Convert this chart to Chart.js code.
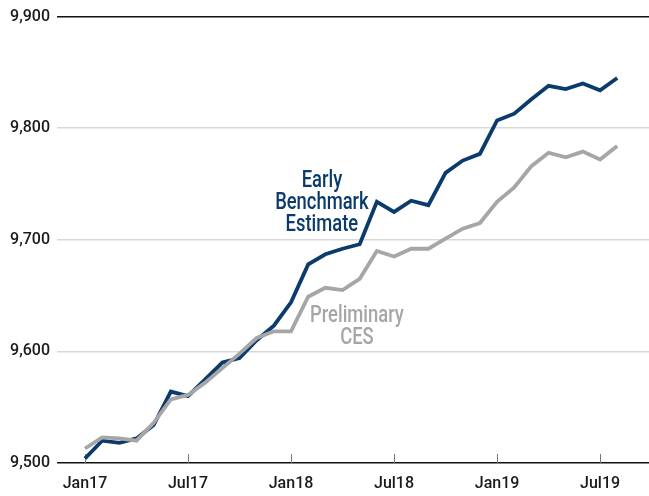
<!DOCTYPE html>
<html><head><meta charset="utf-8">
<script src="https://cdn.jsdelivr.net/npm/chart.js@4"></script>
<style>html,body{margin:0;padding:0;background:#fff}#wrap{width:649px;height:496px}</style>
</head><body><div id="wrap"><canvas id="c" width="649" height="496"></canvas></div>
<script>
const months = ['Jan17','Feb17','Mar17','Apr17','May17','Jun17','Jul17','Aug17','Sep17','Oct17','Nov17','Dec17',
  'Jan18','Feb18','Mar18','Apr18','May18','Jun18','Jul18','Aug18','Sep18','Oct18','Nov18','Dec18',
  'Jan19','Feb19','Mar19','Apr19','May19','Jun19','Jul19','Aug19'];
const tickLabels = ['Jan17','Jul17','Jan18','Jul18','Jan19','Jul19'];
const yTicks = [9500,9600,9700,9800,9900];
const earlyBenchmark = [9504,9520,9518,9522,9534,9564,9560,9575,9590,9594,9610,9623,
  9644,9678,9687,9692,9696,9734,9725,9735,9731,9760,9771,9777,
  9807,9813,9826,9838,9835,9840,9834,9845];
const preliminaryCES = [9513,9523,9522,9520,9536,9557,9561,9572,9585,9598,9612,9618,
  9618,9649,9657,9655,9665,9690,9685,9692,9692,9701,9710,9715,
  9734,9747,9766,9778,9774,9779,9772,9784];

const BLUE = '#0b3b6d', GRAY = '#a6a6a6';
const tickIdx = tickLabels.map(l => months.indexOf(l));
const toPts = arr => arr.map((v, i) => ({x: i, y: v}));

const annotations = [
  {x: 13.8, y: 9747, color: BLUE, lines: ['Early', 'Benchmark', 'Estimate']},
  {x: 15.84, y: 9626, color: GRAY, lines: ['Preliminary', 'CES']}
];

const extras = {
  id: 'extras',
  beforeDatasetsDraw(chart) {
    const {ctx, chartArea, scales} = chart;
    ctx.save();
    ctx.strokeStyle = '#777';
    ctx.lineWidth = 1;
    tickIdx.forEach(v => {
      const x = Math.round(scales.x.getPixelForValue(v)) + 0.5;
      ctx.beginPath();
      ctx.moveTo(x, chartArea.bottom - 9);
      ctx.lineTo(x, chartArea.bottom);
      ctx.stroke();
    });
    ctx.restore();
  },
  afterDatasetsDraw(chart) {
    const {ctx, scales} = chart;
    ctx.save();
    ctx.font = '500 23px Roboto';
    ctx.textAlign = 'center';
    ctx.textBaseline = 'alphabetic';
    annotations.forEach(a => {
      const x = scales.x.getPixelForValue(a.x);
      const y0 = scales.y.getPixelForValue(a.y);
      ctx.fillStyle = a.color;
      a.lines.forEach((t, i) => {
        ctx.save();
        ctx.translate(x, y0 + i * 22);
        ctx.scale(0.8, 1);
        ctx.fillText(t, 0, 0);
        ctx.restore();
      });
    });
    ctx.restore();
  }
};

new Chart(document.getElementById('c'), {
  type: 'line',
  data: {
    datasets: [
      {label: 'Preliminary CES', data: toPts(preliminaryCES), borderColor: GRAY, borderWidth: 3.8,
       pointRadius: 0, tension: 0, order: 0},
      {label: 'Early Benchmark Estimate', data: toPts(earlyBenchmark), borderColor: BLUE, borderWidth: 3.8,
       pointRadius: 0, tension: 0, order: 1}
    ]
  },
  options: {
    responsive: false,
    animation: false,
    layout: {padding: {top: 15, left: 0, right: 0, bottom: 0}},
    plugins: {legend: {display: false}, tooltip: {enabled: false}},
    scales: {
      x: {
        type: 'linear', min: -1.63, max: 32.85,
        grid: {display: false}, border: {display: false},
        afterBuildTicks: s => { s.ticks = tickIdx.map(v => ({value: v})); },
        afterFit: s => { s.height = 33; },
        ticks: {autoSkip: false, maxRotation: 0, padding: 3, color: '#1a1a1a',
                font: {family: 'Roboto', size: 16, weight: '500'},
                callback: v => months[v]}
      },
      y: {
        min: 9500, max: 9900,
        afterBuildTicks: s => { s.ticks = yTicks.map(v => ({value: v})); },
        afterFit: s => { s.width = 57; },
        border: {display: false},
        grid: {drawTicks: false, lineWidth: 1.5,
               color: c => (c.tick && (c.tick.value === 9900 || c.tick.value === 9500)) ? '#111' : '#d9d9d9'},
        ticks: {padding: 7, color: '#1a1a1a', font: {family: 'Roboto', size: 16, weight: '500'},
                callback: v => v.toLocaleString('en-US')}
      }
    }
  },
  plugins: [extras]
});
</script></body></html>
